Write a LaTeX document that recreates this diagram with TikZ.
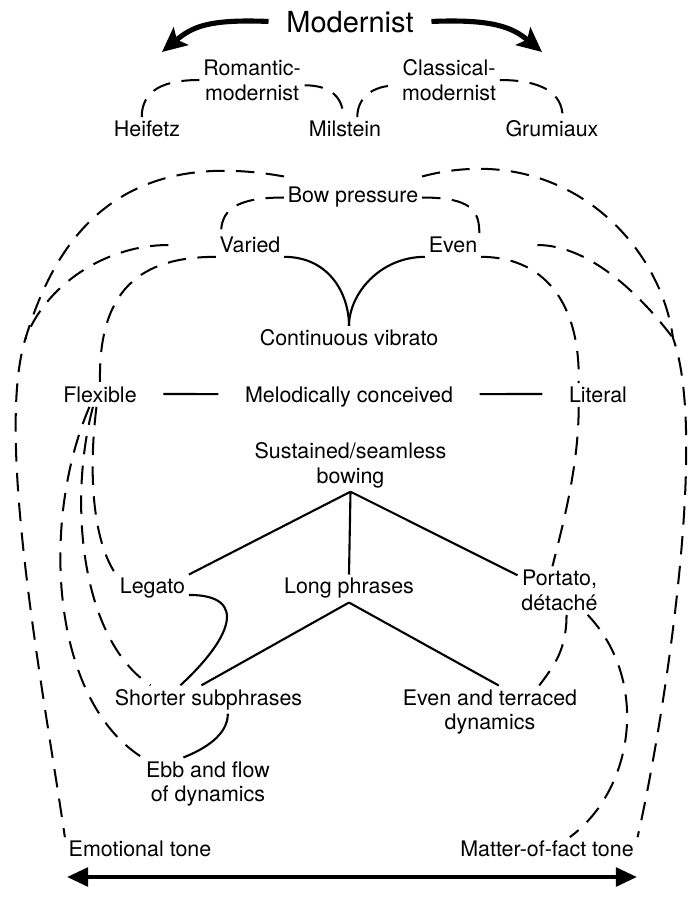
\documentclass[tikz,border=0pt]{standalone}
\usepackage{fontspec}
\setmainfont{TeX Gyre Heros}
\usetikzlibrary{arrows.meta}

\begin{document}
\begin{tikzpicture}[x=0.02cm,y=-0.02cm,
        every node/.style={inner sep=2pt,align=center,font=\fontsize{12.2}{14.2}\selectfont},
        dsh/.style={line width=1.15pt,dash pattern=on 10.5pt off 6.5pt},
        sld/.style={line width=1.2pt},
        link/.style={sld,shorten <=13pt,shorten >=13pt},
        bigarr/.style={line width=2.9pt,shorten <=8pt,-{Stealth[length=14pt,width=13pt,inset=3pt]}},
        tonearr/.style={line width=2.4pt,{Triangle[length=12pt,width=10.5pt]}-{Triangle[length=12pt,width=10.5pt]}}]
        \useasboundingbox (0,0) rectangle (700,897);
        \node[font=\fontsize{16.5}{20}\selectfont](modernist) at (350,22) {Modernist};
        \node(romantic) at (252,80) {Romantic-\\modernist};
        \node(classical) at (449,80) {Classical-\\modernist};
        \node(heifetz) at (147,129) {Heifetz};
        \node(milstein) at (345,129) {Milstein};
        \node(grumiaux) at (552,129) {Grumiaux};
        \node(bowp) at (353,197.5) {Bow pressure};
        \node(varied) at (250,245) {Varied};
        \node(even) at (453,245) {Even};
        \node(cv) at (349,338) {Continuous vibrato};
        \node(flexible) at (100,395) {Flexible};
        \node(mel) at (349,397.5) {Melodically conceived};
        \node(literal) at (598,395) {Literal};
        \node(sus) at (350.5,465) {Sustained/seamless\\bowing};
        \node(legato) at (152.5,588.5) {Legato};
        \node(longp) at (349,588.5) {Long phrases};
        \node(portato) at (559.5,590.5) {Portato,\\détaché};
        \node(ss) at (208.5,699.5) {Shorter subphrases};
        \node(etd) at (490,712) {Even and terraced\\dynamics};
        \node(ebb) at (208,784) {Ebb and flow\\of dynamics};
        \node(emo) at (140,849) {Emotional tone};
        \node(mft) at (547,849) {Matter-of-fact tone};
        \coordinate(lm) at (162,52);
        \coordinate(rm) at (542,52);
        \coordinate(lmerge) at (25,340);
        \coordinate(rmerge) at (673,338);
        \coordinate(tl) at (67,877);
        \coordinate(tr) at (637,877);
        \draw[bigarr](modernist.west) .. controls +(-75,-3) and +(30,-25) .. (lm);
        \draw[bigarr](modernist.east) .. controls +(75,-3) and +(-30,-25) .. (rm);
        \draw[tonearr](tl)--(tr);
        \draw[dsh]([xshift=-3pt]heifetz.north) .. controls +(0,-28) and +(-34,0) .. (romantic.west);
        \draw[dsh]([yshift=-3pt]romantic.east) .. controls +(28,0) and +(0,-18) .. ([xshift=-1pt]milstein.north);
        \draw[dsh]([xshift=7pt]milstein.north) .. controls +(0,-18) and +(-28,0) .. ([yshift=-3pt]classical.west);
        \draw[dsh](classical.east) .. controls +(40,0) and +(0,-25) .. ([xshift=6pt]grumiaux.north);
        \draw[dsh](bowp.west) .. controls +(-50,0) and +(0,-22) .. ([xshift=3pt]varied.north west);
        \draw[dsh](bowp.east) .. controls +(50,0) and +(0,-22) .. ([xshift=-1pt]even.north east);
        \draw[dsh]([yshift=4pt]bowp.north west) .. controls (110,145) and (52,250) .. (lmerge) .. controls (-5,440) and (45,700) .. (emo.north west);
        \draw[dsh]([yshift=4pt]bowp.north east) .. controls (560,140) and (660,240) .. (rmerge) .. controls (710,440) and (660,740) .. (mft.north east);
        \draw[dsh,shorten <=27pt](varied.west) .. controls +(-110,0) and +(20,-55) .. (lmerge);
        \draw[dsh,shorten <=32pt](even.east) .. controls +(110,0) and +(-30,-40) .. (rmerge);
        \draw[dsh](varied.south west) .. controls +(-75,0) and +(-2,-94) .. (flexible.north);
        \draw[dsh](even.south east) .. controls +(60,0) and +(2,-84) .. ([xshift=-11pt]literal.north);
        \draw[sld](varied.south east) .. controls +(45,0) and +(0,-32) .. (cv.north);
        \draw[sld](even.south west) .. controls +(-45,0) and +(0,-32) .. (cv.north);
        \draw[link]([yshift=5pt]flexible.base east)--([yshift=5pt]mel.base west);
        \draw[link]([yshift=5pt]mel.base east)--([yshift=5pt]literal.base west);
        \draw[sld](sus.south)--(legato.north east);
        \draw[sld](sus.south)--(longp.north);
        \draw[sld](sus.south)--(portato.160);
        \draw[sld](longp.south)--([xshift=-4pt]ss.north);
        \draw[sld](longp.south)--([xshift=5pt]etd.north);
        \draw[sld](legato.-10) .. controls +(61,0) and +(50,-46) .. ([xshift=-16pt]ss.north);
        \draw[sld]([xshift=11pt]ss.south) .. controls +(0,22) and +(20,-8) .. ([xshift=-14pt]ebb.north);
        \draw[dsh]([xshift=-2pt]flexible.south) .. controls +(-8,64) and +(-24,-35) .. (legato.north west);
        \draw[dsh]([xshift=-4pt]flexible.south) .. controls +(-25,94) and +(-70,-46) .. ([xshift=-33pt]ss.north);
        \draw[dsh]([xshift=-6pt]flexible.south) .. controls +(-49,114) and +(-92,-58) .. (ebb.north west);
        \draw[dsh]([xshift=-11pt]literal.south) .. controls +(0,60) and +(10,-40) .. ([xshift=-4pt]portato.north);
        \draw[dsh]([xshift=4pt]portato.south) .. controls +(0,35) and +(15,-20) .. ([xshift=28pt]etd.north);
        \draw[dsh]([xshift=16pt]portato.south) .. controls +(62,65) and +(65,-48) .. ([xshift=13pt]mft.north);
        \end{tikzpicture}
\end{document}
